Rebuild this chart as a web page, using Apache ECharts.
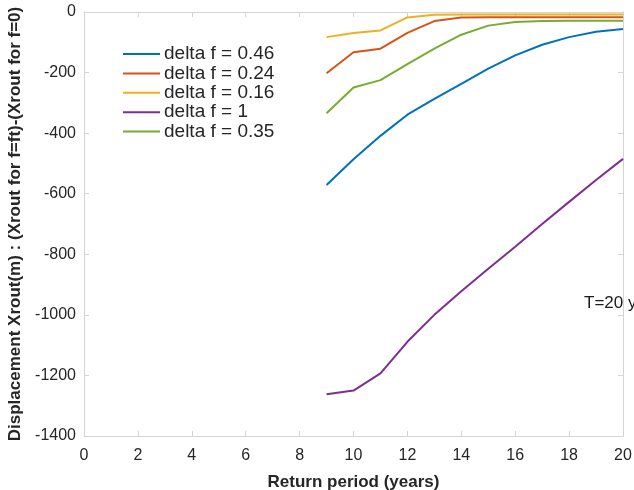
<!DOCTYPE html>
<html>
<head>
<meta charset="utf-8">
<script src="https://cdn.jsdelivr.net/npm/echarts@6/dist/echarts.min.js"></script>
<style>
  html, body { margin: 0; padding: 0; background: #fff; }
  #chart { width: 634px; height: 490px; }
</style>
</head>
<body>
<div id="chart"></div>
<script>
// Return periods (years)
const returnPeriods = [9, 10, 11, 12, 13, 14, 15, 16, 17, 18, 19, 20];

// Displacement differences (m) for each delta f
const df046 = [-571, -486, -409, -339, -287, -237, -187, -143, -108, -83, -65, -56];
const df024 = [-202, -133, -121, -69, -30, -18, -17, -17, -17, -17, -17, -17];
const df016 = [-83, -69, -61, -18, -9, -8, -8, -8, -8, -8, -8, -8];
const df100 = [-1262, -1250, -1193, -1089, -1000, -922, -848, -775, -700, -627, -555, -485];
const df035 = [-334, -249, -225, -172, -121, -75, -45, -33, -30, -29, -29, -29];

const seriesNames = ['delta f = 0.46', 'delta f = 0.24', 'delta f = 0.16', 'delta f = 1', 'delta f = 0.35'];
const seriesValues = [df046, df024, df016, df100, df035];
const seriesColors = ['#0072BD', '#D95319', '#EDB120', '#7E2F8E', '#77AC30'];

const xTicks = { min: 0, max: 20, interval: 2 };
const yTicks = { min: -1400, max: 0, interval: 200 };

const FONT = 'Liberation Sans, Arial, sans-serif';
const boxColor = '#d4d4d4';
const textColor = '#262626';

const chart = echarts.init(document.getElementById('chart'), null, { renderer: 'canvas' });

function boxAxis(extra) {
  return Object.assign({
    axisLine: { show: true, onZero: false, lineStyle: { color: boxColor, width: 1 } },
    axisTick: { show: true, inside: true, length: 5, lineStyle: { color: boxColor } },
    splitLine: { show: false }
  }, extra);
}

chart.setOption({
  animation: false,
  backgroundColor: '#ffffff',
  grid: { left: 84, right: 11, top: 12, bottom: 54, containLabel: false, outerBoundsMode: 'none' },
  xAxis: [
    boxAxis({
      type: 'value', position: 'bottom',
      min: xTicks.min, max: xTicks.max, interval: xTicks.interval,
      name: 'Return period (years)', nameLocation: 'middle', nameGap: 38,
      nameTextStyle: { fontFamily: FONT, fontSize: 17, fontWeight: 'bold', color: textColor },
      axisLabel: { fontFamily: FONT, fontSize: 16, color: textColor, margin: 12, formatter: v => String(v) }
    }),
    boxAxis({
      type: 'value', position: 'top',
      min: xTicks.min, max: xTicks.max, interval: xTicks.interval,
      axisLabel: { show: false }
    })
  ],
  yAxis: [
    boxAxis({
      type: 'value', position: 'left',
      min: yTicks.min, max: yTicks.max, interval: yTicks.interval,
      name: 'Displacement Xrout(m) : (Xrout for f=ft)-(Xrout for f=0)',
      nameLocation: 'middle', nameGap: 56,
      nameTextStyle: { fontFamily: FONT, fontSize: 17, fontWeight: 'bold', color: textColor },
      axisLabel: { fontFamily: FONT, fontSize: 16, color: textColor, margin: 8, formatter: v => String(v) }
    }),
    boxAxis({
      type: 'value', position: 'right',
      min: yTicks.min, max: yTicks.max, interval: yTicks.interval,
      axisLabel: { show: false }
    })
  ],
  legend: {
    orient: 'vertical',
    left: 123, top: 44.5,
    padding: 0,
    itemWidth: 37, itemHeight: 2,
    itemGap: 0.4,
    icon: 'rect',
    textStyle: { fontFamily: FONT, fontSize: 19, color: textColor, lineHeight: 19, padding: [0, 0, 0, -1] },
    data: seriesNames
  },
  series: seriesNames.map((name, i) => ({
    name: name,
    type: 'line',
    xAxisIndex: 0, yAxisIndex: 0,
    showSymbol: false,
    symbol: 'none',
    lineStyle: { width: 2, color: seriesColors[i] },
    itemStyle: { color: seriesColors[i] },
    data: returnPeriods.map((x, j) => [x, seriesValues[i][j]])
  })),
  graphic: [{
    type: 'text',
    left: 584, top: 295,
    style: { text: 'T=20 y', font: '17px ' + FONT, fill: '#1a1a1a' }
  }]
});
</script>
</body>
</html>
